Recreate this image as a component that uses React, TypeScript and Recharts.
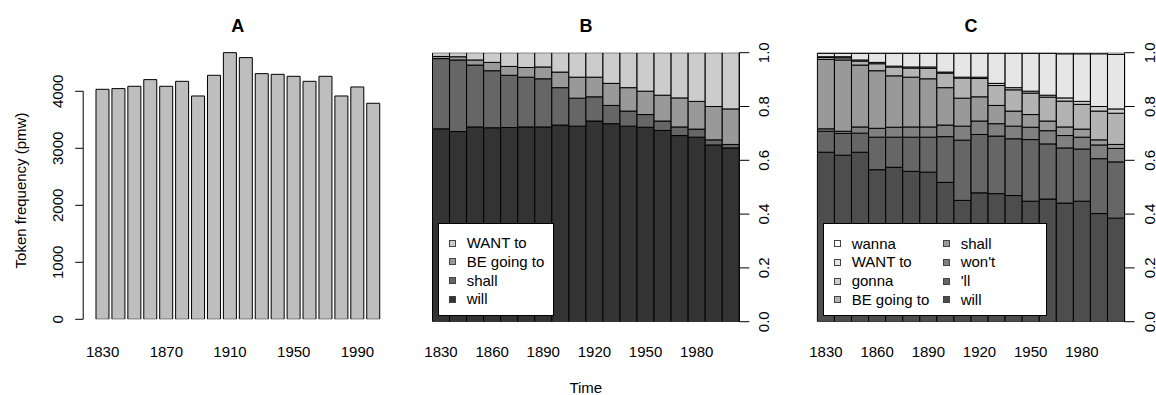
import React from 'react';
import { BarChart, Bar, XAxis, YAxis, Legend } from 'recharts';

// ---------- data ----------
const years = ['1830', '1840', '1850', '1860', '1870', '1880', '1890', '1900', '1910', '1920', '1930', '1940', '1950', '1960', '1970', '1980', '1990', '2000'];

// Panel A: token frequency (pmw)
const tokenFrequency = [4035, 4047, 4088, 4205, 4088, 4175, 3918, 4281, 4678, 4591, 4310, 4298, 4263, 4175, 4263, 3918, 4076, 3790];
const freqTicks = [0, 1000, 2000, 3000, 4000];

// Panel B: proportions (bottom to top)
const willB = [0.717, 0.707, 0.724, 0.721, 0.722, 0.724, 0.724, 0.731, 0.727, 0.746, 0.736, 0.727, 0.723, 0.711, 0.692, 0.686, 0.657, 0.646];
const shallB = [0.261, 0.266, 0.230, 0.212, 0.194, 0.185, 0.179, 0.139, 0.104, 0.090, 0.068, 0.056, 0.047, 0.035, 0.032, 0.030, 0.019, 0.013];
const beGoingToB = [0.008, 0.012, 0.019, 0.031, 0.033, 0.036, 0.044, 0.058, 0.078, 0.073, 0.082, 0.087, 0.087, 0.096, 0.108, 0.103, 0.124, 0.132];
const wantToB = [0.014, 0.015, 0.027, 0.036, 0.051, 0.055, 0.053, 0.072, 0.091, 0.091, 0.114, 0.130, 0.143, 0.158, 0.168, 0.181, 0.200, 0.209];

// Panel C: proportions (bottom to top)
const willC = [0.630, 0.619, 0.630, 0.565, 0.574, 0.559, 0.556, 0.518, 0.451, 0.479, 0.476, 0.469, 0.448, 0.456, 0.441, 0.448, 0.402, 0.385];
const llC = [0.078, 0.081, 0.071, 0.121, 0.112, 0.127, 0.130, 0.170, 0.224, 0.217, 0.214, 0.211, 0.229, 0.205, 0.205, 0.194, 0.204, 0.209];
const wontC = [0.009, 0.008, 0.023, 0.033, 0.037, 0.038, 0.038, 0.043, 0.052, 0.050, 0.046, 0.047, 0.046, 0.049, 0.046, 0.044, 0.051, 0.050];
const shallC = [0.258, 0.265, 0.230, 0.214, 0.191, 0.185, 0.179, 0.139, 0.104, 0.090, 0.068, 0.056, 0.047, 0.036, 0.032, 0.030, 0.019, 0.015];
const beGoingToC = [0.007, 0.008, 0.015, 0.026, 0.033, 0.034, 0.039, 0.054, 0.075, 0.068, 0.074, 0.079, 0.080, 0.089, 0.096, 0.092, 0.107, 0.116];
const gonnaC = [0.003, 0.004, 0.004, 0.005, 0.003, 0.004, 0.005, 0.004, 0.003, 0.005, 0.008, 0.008, 0.007, 0.007, 0.012, 0.011, 0.017, 0.016];
const wantToC = [0.013, 0.013, 0.025, 0.034, 0.048, 0.051, 0.051, 0.070, 0.089, 0.089, 0.112, 0.128, 0.141, 0.156, 0.164, 0.177, 0.196, 0.203];
const wannaC = [0.002, 0.002, 0.002, 0.002, 0.002, 0.002, 0.002, 0.002, 0.002, 0.002, 0.002, 0.002, 0.002, 0.002, 0.004, 0.004, 0.004, 0.006];

const propTicks = [0, 0.2, 0.4, 0.6, 0.8, 1];

const seriesB = [
  { key: 'will', name: 'will', color: '#333333' },
  { key: 'shall', name: 'shall', color: '#666666' },
  { key: 'beGoingTo', name: 'BE going to', color: '#999999' },
  { key: 'wantTo', name: 'WANT to', color: '#cccccc' },
];
const seriesC = [
  { key: 'will', name: 'will', color: '#4d4d4d' },
  { key: 'll', name: "'ll", color: '#666666' },
  { key: 'wont', name: "won't", color: '#808080' },
  { key: 'shall', name: 'shall', color: '#999999' },
  { key: 'beGoingTo', name: 'BE going to', color: '#b3b3b3' },
  { key: 'gonna', name: 'gonna', color: '#cccccc' },
  { key: 'wantTo', name: 'WANT to', color: '#e6e6e6' },
  { key: 'wanna', name: 'wanna', color: '#ffffff' },
];

const dataA = years.map((year, i) => ({ year, freq: tokenFrequency[i] }));
const dataB = years.map((year, i) => ({
  year, will: willB[i], shall: shallB[i], beGoingTo: beGoingToB[i], wantTo: wantToB[i],
}));
const dataC = years.map((year, i) => ({
  year, will: willC[i], ll: llC[i], wont: wontC[i], shall: shallC[i],
  beGoingTo: beGoingToC[i], gonna: gonnaC[i], wantTo: wantToC[i], wanna: wannaC[i],
}));

// ---------- layout ----------
const FONT = '"Liberation Sans", Arial, Helvetica, sans-serif';
const H = 395;
const LABEL_BASELINE = 357;

const A_TOP = 45.7;
const A_BOTTOM = 319.3;
const A_MAX = 4800;
const A_PLOT_H = A_BOTTOM - A_TOP;

const P_TOP = 52.7;
const P_BOTTOM = 321.7;

// ---------- ticks ----------
const XTick = (props: any) => {
  const { x, payload } = props;
  return (
    <text x={x} y={LABEL_BASELINE} textAnchor="middle" fontSize={15} fontFamily={FONT} fill="#000">
      {payload.value}
    </text>
  );
};

const LeftFreqTick = (props: any) => {
  const { x, y, payload } = props;
  const step = (A_PLOT_H * 1000) / A_MAX;
  const bx = x - 20;
  return (
    <g>
      {payload.value < 4000 && <line x1={x} x2={x} y1={y} y2={y - step} stroke="#000" strokeWidth={1} />}
      <line x1={x} y1={y} x2={x - 8} y2={y} stroke="#000" strokeWidth={1} />
      <text x={bx} y={y} transform={`rotate(-90 ${bx} ${y})`} textAnchor="middle" fontSize={15} fontFamily={FONT} fill="#000">
        {payload.value}
      </text>
    </g>
  );
};

const RightPropTick = (props: any) => {
  const { x, y, payload } = props;
  const bx = x + 30;
  return (
    <g>
      <line x1={x} y1={y} x2={x + 10} y2={y} stroke="#000" strokeWidth={1} />
      <text x={bx} y={y} transform={`rotate(-90 ${bx} ${y})`} textAnchor="middle" fontSize={15} fontFamily={FONT} fill="#000">
        {Number(payload.value).toFixed(1)}
      </text>
    </g>
  );
};

// ---------- legend ----------
const LegendBox = ({ series, width, colOffset }: { series: any[]; width: number; colOffset: number }) => {
  const items = [...series].reverse();
  return (
    <div
      style={{
        position: 'relative', width, height: 93, boxSizing: 'border-box',
        border: '1px solid #000', background: '#fff', fontFamily: FONT, fontSize: 15, color: '#000',
      }}
    >
      {items.map((s, i) => {
        const col = Math.floor(i / 4);
        const row = i % 4;
        const top = 19.6 + row * 18.7;
        const left = 10.3 + col * colOffset;
        return (
          <div key={s.key} style={{ position: 'absolute', left, top: top - 9, height: 18, display: 'flex', alignItems: 'center', whiteSpace: 'nowrap' }}>
            <span style={{ display: 'inline-block', width: 7, height: 7, boxSizing: 'border-box', border: '1px solid #444', background: s.color }} />
            <span style={{ marginLeft: 10.4, lineHeight: '18px' }}>{s.name}</span>
          </div>
        );
      })}
    </div>
  );
};

// ---------- panels ----------
const PanelA = () => (
  <BarChart width={400} height={H} data={dataA} margin={{ top: A_TOP, right: 7.2, bottom: H - A_BOTTOM - 30, left: 23.2 }} barCategoryGap="8.33%">
    <XAxis dataKey="year" interval={3} tickLine={false} axisLine={false} tickSize={0} tickMargin={0} height={30} tick={<XTick />} padding={{ left: 11.47, right: 11.47 }} />
    <YAxis type="number" domain={[0, A_MAX]} ticks={freqTicks} width={60} axisLine={false} tickLine={false} tickSize={0} tickMargin={0} tick={<LeftFreqTick />} allowDataOverflow />
    <Bar dataKey="freq" name="Token frequency (pmw)" fill="#bebebe" stroke="#000" strokeWidth={1} isAnimationActive={false} />
  </BarChart>
);

const PanelB = () => (
  <BarChart width={400} height={H} data={dataB} margin={{ top: P_TOP, right: 0.7, bottom: H - P_BOTTOM - 30, left: 32.5 }} barCategoryGap={0} barGap={0}>
    <XAxis dataKey="year" interval={2} tickLine={false} axisLine={false} tickSize={0} tickMargin={0} height={30} tick={<XTick />} />
    <YAxis orientation="right" type="number" domain={[0, 1]} ticks={propTicks} width={60} axisLine={{ stroke: '#000' }} tickLine={false} tickSize={0} tickMargin={0} tick={<RightPropTick />} allowDataOverflow />
    {seriesB.map((s) => (
      <Bar key={s.key} dataKey={s.key} name={s.name} stackId="b" fill={s.color} stroke="#000" strokeWidth={1} isAnimationActive={false} />
    ))}
    <Legend
      verticalAlign="middle"
      align="center"
      layout="horizontal"
      wrapperStyle={{ left: 38, top: 222.7, width: 116, height: 93 }}
      content={() => <LegendBox series={seriesB} width={116} colOffset={0} />}
    />
  </BarChart>
);

const PanelC = () => (
  <BarChart width={376} height={H} data={dataC} margin={{ top: P_TOP, right: 0, bottom: H - P_BOTTOM - 30, left: 37.4 }} barCategoryGap={0} barGap={0}>
    <XAxis dataKey="year" interval={2} tickLine={false} axisLine={false} tickSize={0} tickMargin={0} height={30} tick={<XTick />} />
    <YAxis orientation="right" type="number" domain={[0, 1]} ticks={propTicks} width={31.4} axisLine={{ stroke: '#000' }} tickLine={false} tickSize={0} tickMargin={0} tick={<RightPropTick />} allowDataOverflow />
    {seriesC.map((s) => (
      <Bar key={s.key} dataKey={s.key} name={s.name} stackId="c" fill={s.color} stroke="#000" strokeWidth={1} isAnimationActive={false} />
    ))}
    <Legend
      verticalAlign="middle"
      align="center"
      layout="horizontal"
      wrapperStyle={{ left: 43, top: 223, width: 224, height: 93 }}
      content={() => <LegendBox series={seriesC} width={224} colOffset={109} />}
    />
  </BarChart>
);

export default function App() {
  return (
    <div style={{ position: 'absolute', left: 0, top: 0, width: 1156, height: H, overflow: 'hidden', background: '#fff', fontFamily: FONT }}>
      <div style={{ position: 'absolute', left: 0, top: 0 }}><PanelA /></div>
      <div style={{ position: 'absolute', left: 400, top: 0 }}><PanelB /></div>
      <div style={{ position: 'absolute', left: 780, top: 0 }}><PanelC /></div>
      <svg width={1156} height={H} style={{ position: 'absolute', left: 0, top: 0, pointerEvents: 'none' }}>
        <text x={237.8} y={32} textAnchor="middle" fontSize={18} fontWeight="bold" fontFamily={FONT}>A</text>
        <text x={585.9} y={32} textAnchor="middle" fontSize={18} fontWeight="bold" fontFamily={FONT}>B</text>
        <text x={971} y={32} textAnchor="middle" fontSize={18} fontWeight="bold" fontFamily={FONT}>C</text>
        <text x={26} y={190.5} transform="rotate(-90 26 190.5)" textAnchor="middle" fontSize={15} fontFamily={FONT}>Token frequency (pmw)</text>
        <text x={585.8} y={392.5} textAnchor="middle" fontSize={15} fontFamily={FONT}>Time</text>
      </svg>
    </div>
  );
}
